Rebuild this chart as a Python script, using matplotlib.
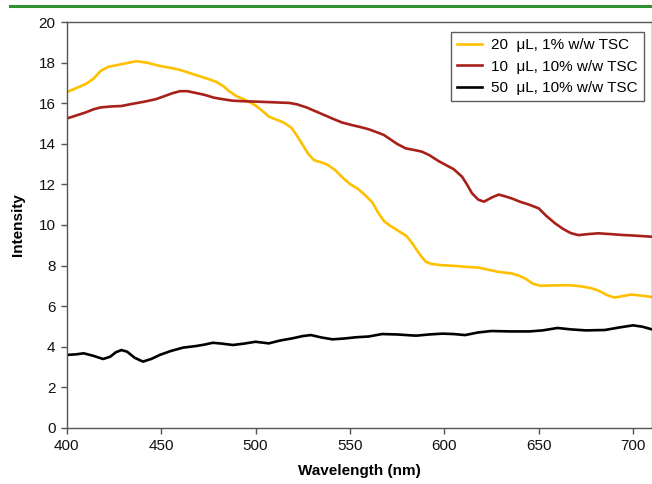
import matplotlib
matplotlib.use('Agg')
from matplotlib import pyplot as plt
from matplotlib.lines import Line2D

plt.rcParams['font.family'] = ['Liberation Sans', 'DejaVu Sans']

# 20 uL, 1% w/w TSC
wl_yellow = [400, 405, 410, 414, 418, 422, 430, 437, 443, 449, 455, 460, 465, 470, 475, 479,
             483, 486, 490, 495, 500, 504, 507, 511, 515, 519, 522, 525, 528, 531, 535, 538,
             542, 546, 550, 554, 558, 562, 565, 568, 571, 575, 580, 583, 587, 590, 593, 598,
             606, 612, 618, 624, 629, 635, 639, 643, 647, 651, 658, 666, 672, 678, 682, 686,
             690, 695, 699, 704, 710]
int_yellow = [16.55, 16.75, 16.95, 17.2, 17.6, 17.8, 17.95, 18.08, 18.0, 17.85, 17.75, 17.65,
              17.5, 17.35, 17.2, 17.07, 16.85, 16.6, 16.35, 16.15, 15.9, 15.6, 15.35, 15.2,
              15.05, 14.8, 14.4, 13.95, 13.5, 13.2, 13.08, 12.98, 12.72, 12.35, 12.02, 11.8,
              11.48, 11.1, 10.6, 10.2, 9.98, 9.75, 9.45, 9.1, 8.55, 8.2, 8.08, 8.02, 7.98,
              7.93, 7.9, 7.78, 7.68, 7.62, 7.52, 7.35, 7.1, 7.0, 7.02, 7.03, 6.98, 6.88, 6.75,
              6.55, 6.42, 6.5, 6.57, 6.52, 6.45]

# 10 uL, 10% w/w TSC
wl_red = [400, 405, 410, 414, 418, 424, 429, 435, 441, 447, 451, 456, 460, 464, 468, 473, 478,
          483, 488, 495, 502, 510, 518, 522, 527, 532, 537, 542, 546, 551, 556, 560, 565, 568,
          571, 575, 579.5, 584, 588, 592, 597, 601, 605, 609.4, 612, 614.7, 618, 621, 625,
          628.8, 632, 636, 640, 645, 650, 654, 658.7, 663, 667, 671, 676, 681.6, 688, 694,
          700, 705, 710]
int_red = [15.25, 15.4, 15.55, 15.7, 15.8, 15.85, 15.87, 15.98, 16.08, 16.2, 16.33, 16.5, 16.6,
           16.6, 16.52, 16.42, 16.28, 16.2, 16.13, 16.1, 16.08, 16.05, 16.02, 15.95, 15.8, 15.6,
           15.4, 15.2, 15.05, 14.93, 14.82, 14.72, 14.55, 14.44, 14.25, 14.0, 13.78, 13.7,
           13.62, 13.45, 13.15, 12.95, 12.75, 12.38, 12.0, 11.56, 11.25, 11.15, 11.35, 11.5,
           11.42, 11.3, 11.15, 11.0, 10.82, 10.45, 10.08, 9.8, 9.6, 9.5, 9.55, 9.59, 9.55,
           9.51, 9.48, 9.45, 9.42]

# 50 uL, 10% w/w TSC
wl_black = [400, 405, 409, 414, 419.3, 423, 426, 429, 432, 436, 440.4, 445, 449.3, 455, 461.6,
            468.6, 473, 477.4, 482, 488, 494, 500, 507, 513, 519.6, 525, 529.3, 535, 540.8,
            547, 553, 560, 567, 575, 585, 592, 599, 605, 611, 618, 625, 635, 645, 652, 660,
            667, 675, 685, 693, 700, 705, 710]
int_black = [3.59, 3.62, 3.67, 3.55, 3.39, 3.5, 3.72, 3.83, 3.75, 3.45, 3.26, 3.4, 3.59, 3.78,
             3.95, 4.03, 4.1, 4.19, 4.15, 4.08, 4.15, 4.24, 4.16, 4.3, 4.41, 4.52, 4.57, 4.45,
             4.36, 4.4, 4.46, 4.5, 4.62, 4.6, 4.54, 4.6, 4.64, 4.62, 4.57, 4.7, 4.77, 4.75,
             4.75, 4.8, 4.92, 4.85, 4.8, 4.82, 4.95, 5.05, 4.98, 4.85]

labels = ['20  \u03bcL, 1% w/w TSC', '10  \u03bcL, 10% w/w TSC', '50  \u03bcL, 10% w/w TSC']
colors = ['#FFC000', '#A8201A', '#000000']

x_ticks = [400, 450, 500, 550, 600, 650, 700]
y_ticks = [0, 2, 4, 6, 8, 10, 12, 14, 16, 18, 20]

fig = plt.figure(figsize=(6.52, 4.84), dpi=100)
ax = fig.add_axes([0.1023, 0.1163, 0.8977, 0.8377])

ax.plot(wl_yellow, int_yellow, color=colors[0], lw=1.9, label=labels[0])
ax.plot(wl_red, int_red, color=colors[1], lw=1.9, label=labels[1])
ax.plot(wl_black, int_black, color=colors[2], lw=1.9, label=labels[2])

ax.set_xlim(400, 710)
ax.set_ylim(0, 20)
ax.set_xticks(x_ticks)
ax.set_yticks(y_ticks)
ax.tick_params(direction='out', length=4, width=1, color='#555555', labelsize=11,
               labelcolor='#111111', pad=4)
for side in ['left', 'bottom', 'top', 'right']:
    ax.spines[side].set_color('#555555')
    ax.spines[side].set_linewidth(1)

ax.set_xlabel('Wavelength (nm)', fontsize=11, fontweight='bold', labelpad=8)
ax.set_ylabel('Intensity', fontsize=11, fontweight='bold', labelpad=10)

leg = ax.legend(loc='upper right', bbox_to_anchor=(0.986, 0.976), fontsize=11,
                frameon=True, fancybox=False, handlelength=1.6, handletextpad=0.6,
                labelspacing=0.5, borderpad=0.4, borderaxespad=0)
leg.get_frame().set_edgecolor('#333333')
leg.get_frame().set_linewidth(1)

# green rule across the top of the figure
fig.add_artist(Line2D([0.015, 1.0], [0.988, 0.988], color='#2E9132', lw=2.2,
                      transform=fig.transFigure))

fig.savefig('out.png', dpi=100)
